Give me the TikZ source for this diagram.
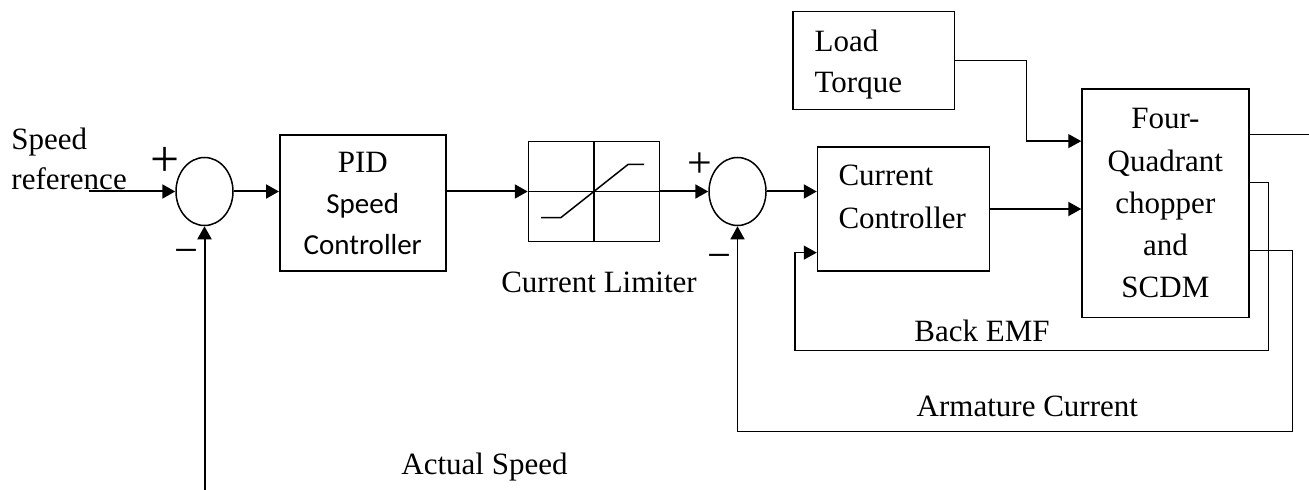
\documentclass[tikz,border=0pt]{standalone}
\usepackage{fontspec}
\setmainfont{Liberation Serif}
\newfontfamily\calibrifont{Carlito}
\usetikzlibrary{shapes.geometric, arrows.meta, positioning, calc}

\begin{document}
\begin{tikzpicture}[
        font=\fontsize{12.4}{16.4}\selectfont,
        block/.style={rectangle, draw, line width=0.6pt, align=center, inner sep=0pt},
        sumnode/.style={ellipse, draw, line width=0.6pt, minimum width=22.8pt, minimum height=27.2pt, inner sep=0pt},
        lbl/.style={inner sep=0pt},
        sign/.style={inner sep=0pt, font=\fontsize{17}{18}\selectfont},
        arrow/.style={-{Triangle[length=5.2pt, width=5.6pt]}, line width=0.8pt},
        fbline/.style={line width=0.5pt},
        fbarrow/.style={fbline, -{Triangle[length=5.2pt, width=5.6pt]}}
    ]
        \useasboundingbox (0,0) rectangle (523.6pt,195.6pt);

        % Speed loop
        \node[sumnode] (sum1) at (81.8pt,119pt) {};
        \node[block, minimum width=66.4pt, minimum height=54.4pt, right=18.1pt of sum1, yshift=-4.6pt] (pid) {PID\\{\calibrifont\fontsize{11.6}{16.4}\selectfont Speed}\\{\calibrifont\fontsize{11.6}{16.4}\selectfont Controller}};
        \node[block, minimum width=52.4pt, minimum height=40pt, right=117.6pt of sum1] (lim) {};

        % Current loop
        \node[sumnode, right=19.2pt of lim] (sum2) {};
        \node[block, align=left, text width=52pt, inner xsep=8.4pt, minimum height=49.7pt, text height=8.5pt, text depth=27.6pt, font=\fontsize{12.4}{17.3}\selectfont, right=20pt of sum2, yshift=-7pt] (cc) {Current\\Controller};
        \node[block, minimum width=66.7pt, minimum height=91.3pt, font=\fontsize{12.4}{16.9}\selectfont, right=36.4pt of cc, yshift=2.3pt] (q4) {Four-\\Quadrant\\chopper\\and\\SCDM};
        \node[block, align=left, text width=47.3pt, inner xsep=8.7pt, minimum height=39.3pt, text height=8.5pt, text depth=15.6pt, above=14.3pt of cc, xshift=-11.9pt] (load) {Load\\Torque};

        % Labels
        \node[lbl, align=left, text depth=0pt, above left=0.4pt and 19.2pt of sum1.west] (spdref) {Speed\\reference};
        \node[lbl, below=11.8pt of lim, xshift=2pt] (limlbl) {Current Limiter};
        \node[lbl, below=72.4pt of pid.south, xshift=48.7pt] (actlbl) {Actual Speed};
        \node[sign, font=\fontsize{20.6}{22}\selectfont] (plus1) at ($(sum1)+(-15.9pt,12pt)$) {+};
        \node[sign] (minus1) at ($(sum1)+(-7.4pt,-26pt)$) {−};
        \node[sign, font=\fontsize{17.5}{19}\selectfont] (plus2) at ($(sum2)+(-15pt,10.7pt)$) {+};
        \node[sign] (minus2) at ($(sum2)+(-7.1pt,-28pt)$) {−};

        % Limiter characteristic
        \draw[line width=0.6pt] (lim.north) -- (lim.south) (lim.west) -- (lim.east);
        \draw[line width=0.6pt] ([shift={(-21.2pt,-10.4pt)}]lim.center) -- ++(8pt,0) -- ([shift={(13.6pt,10.8pt)}]lim.center) -- ++(6.4pt,0);

        % Free ends
        \coordinate[left=34.4pt of sum1.west] (ref);
        \coordinate[below=105.6pt of sum1.south] (wfb);
        \coordinate[right=26.5pt of q4.north east, yshift=-18.4pt] (omega);

        % Connections
        \draw[arrow] (ref) -- (sum1.west);
        \draw[arrow] (wfb) -- (sum1.south);
        \draw[arrow] (sum1.east) -- (sum1.east -| pid.west);
        \draw[arrow] (sum1 -| pid.east) -- (lim.west);
        \draw[arrow] (lim.east) -- (sum2.west);
        \draw[arrow] (sum2.east) -- (sum2.east -| cc.west);
        \draw[arrow] (cc.east) -- (cc.east -| q4.west);
        \draw[fbarrow] (load.east) -- ++(28.3pt,0) |- ([yshift=-21.1pt]q4.north west);
        \draw[fbline] (omega -| q4.east) -- (omega);

        \draw[fbarrow] ([yshift=-37.7pt]q4.north east) -- ++(7.6pt,0) -- ++(0,-67pt) -- node[lbl, pos=0.605, above=3.2pt] {Back EMF} ++(-189.4pt,0) |- ([yshift=7.7pt]cc.south west);
        \draw[fbarrow] ([yshift=-64.8pt]q4.north east) -- ++(17.3pt,0) -- ++(0,-72.5pt) -| node[lbl, pos=0.239, above=5.6pt] {Armature Current} (sum2.south);
    \end{tikzpicture}
\end{document}
